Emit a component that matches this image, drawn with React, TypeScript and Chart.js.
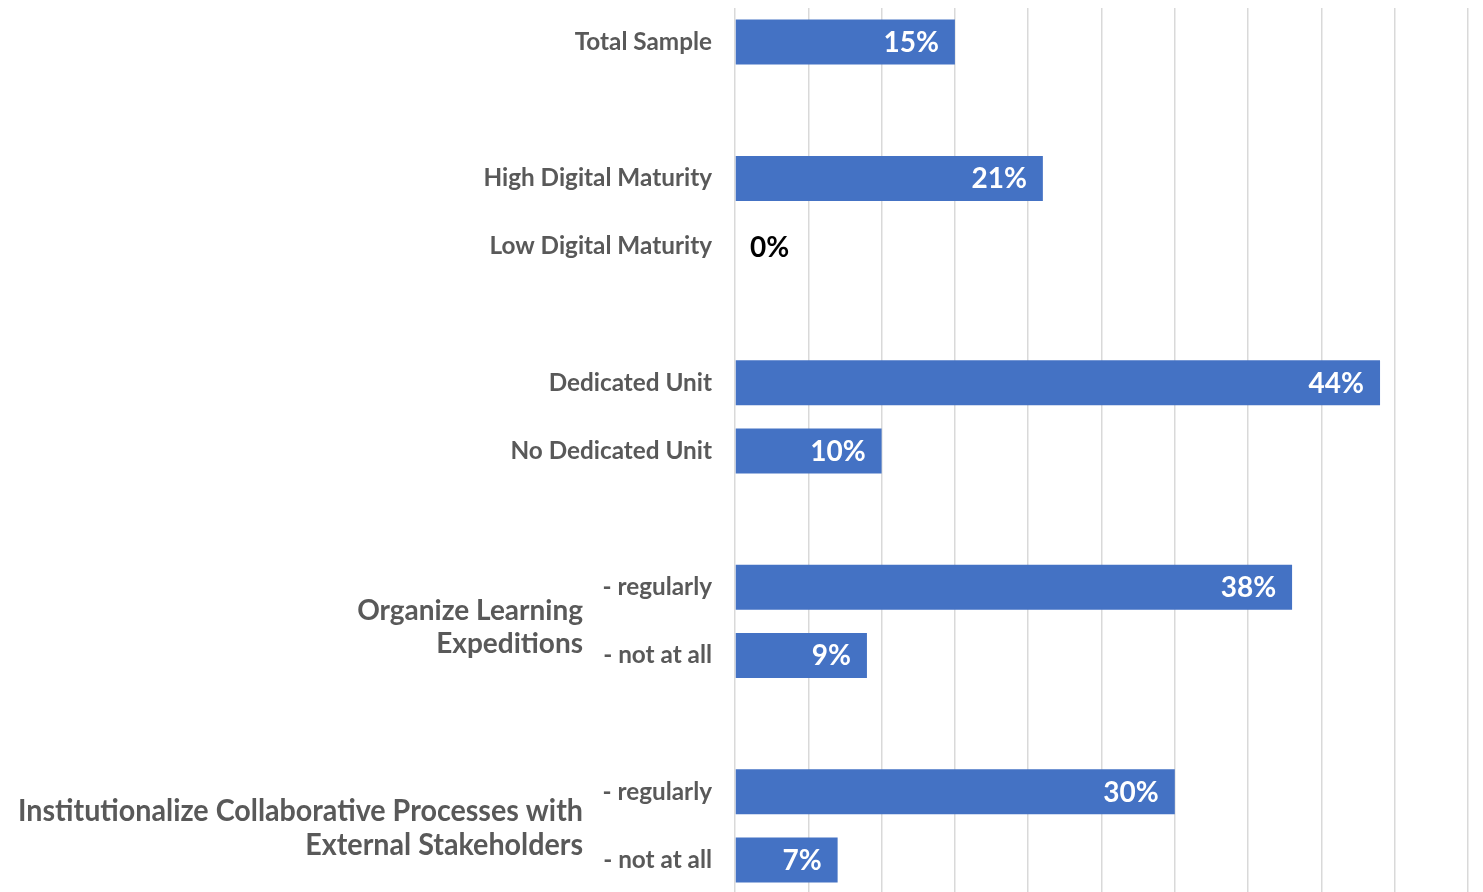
import React, { useEffect, useRef } from "react";
import { Chart, registerables } from "chart.js";

Chart.register(...registerables);

const categories = [
  "Total Sample",
  "",
  "High Digital Maturity",
  "Low Digital Maturity",
  "",
  "Dedicated Unit",
  "No Dedicated Unit",
  "",
  "- regularly",
  "- not at all",
  "",
  "- regularly",
  "- not at all",
];
const values: (number | null)[] = [15, null, 21, 0, null, 44, 10, null, 38, 9, null, 30, 7];

const groupLabels = [
  { lines: ["Organize Learning", "Expeditions"], from: 8, to: 9, size: 28, fitWidth: 0, dy: 6, lh: 33 },
  { lines: ["Institutionalize Collaborative Processes with", "External Stakeholders"], from: 11, to: 12, size: 30, fitWidth: 565, dy: 2, lh: 34 },
];

const FONT = "Lato, 'Open Sans', sans-serif";

const labelPlugin = {
  id: "customLabels",
  afterDatasetsDraw(chart: any) {
    const ctx = chart.ctx;
    const meta = chart.getDatasetMeta(0);
    const xs = chart.scales.x;
    ctx.save();
    ctx.font = `bold 28px ${FONT}`;
    ctx.textBaseline = "middle";
    meta.data.forEach((bar: any, i: number) => {
      const v = values[i];
      if (v === null || v === undefined) return;
      const txt = `${v}%`;
      if (v > 0) {
        ctx.fillStyle = "#ffffff";
        ctx.textAlign = "right";
        ctx.fillText(txt, bar.x - 16, bar.y + 1);
      } else {
        ctx.fillStyle = "#000000";
        ctx.textAlign = "left";
        ctx.fillText(txt, xs.getPixelForValue(0) + 15, bar.y + 1);
      }
    });
    // group labels
    const ys = chart.scales.y;
    ctx.fillStyle = "#595959";
    ctx.textAlign = "right";
    groupLabels.forEach((g) => {
      ctx.font = `bold ${g.size}px ${FONT}`;
      const mid = (ys.getPixelForValue(g.from) + ys.getPixelForValue(g.to)) / 2 + g.dy;
      const n = g.lines.length;
      let sx = 1;
      if (g.fitWidth) {
        const w = ctx.measureText(g.lines[0]).width;
        sx = Math.min(1, g.fitWidth / w);
      }
      g.lines.forEach((line, k) => {
        const y = mid + (k - (n - 1) / 2) * g.lh;
        ctx.save();
        ctx.translate(583, y);
        ctx.scale(sx, 1);
        ctx.fillText(line, 0, 0);
        ctx.restore();
      });
    });
    ctx.restore();
  },
};

export default function App() {
  const ref = useRef<HTMLCanvasElement | null>(null);
  useEffect(() => {
    if (!ref.current) return;
    const chart = new Chart(ref.current, {
      type: "bar",
      data: {
        labels: categories,
        datasets: [
          {
            data: values as any,
            backgroundColor: "#4472c4",
            borderWidth: 0,
            categoryPercentage: 1,
            barPercentage: 0.66,
          },
        ],
      },
      options: {
        indexAxis: "y",
        animation: false,
        responsive: false,
        maintainAspectRatio: false,
        layout: { padding: { top: 8, bottom: 0, right: 15, left: 0 } },
        plugins: { legend: { display: false }, tooltip: { enabled: false } },
        scales: {
          x: {
            min: 0,
            max: 50,
            ticks: { display: false, stepSize: 5 },
            grid: { color: "#d9d9d9", lineWidth: 1.5, drawTicks: false },
            border: { display: false },
          },
          y: {
            ticks: {
              autoSkip: false,
              padding: 23,
              color: "#595959",
              font: { family: FONT, size: 24.3, weight: "bold" },
            },
            grid: { display: false, drawTicks: false },
            border: { display: false },
            afterFit: (scale: any) => {
              scale.width = 735;
              scale.paddingTop = 0;
              scale.paddingBottom = 0;
            },
          },
        },
      },
      plugins: [labelPlugin],
    });
    return () => chart.destroy();
  }, []);
  return (
    <div style={{ position: "fixed", left: 0, top: 0, width: 1483, height: 892, background: "#fff", overflow: "hidden" }}>
      <canvas ref={ref} width={1483} height={894} style={{ width: 1483, height: 894, display: "block" }} />
    </div>
  );
}
